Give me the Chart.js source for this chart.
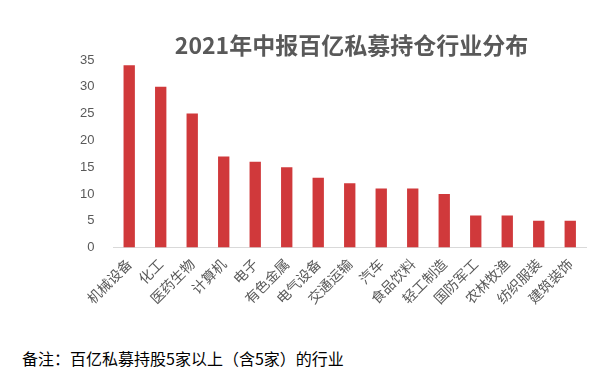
<!DOCTYPE html>
<html>
<head>
<meta charset="utf-8">
<script src="https://cdn.jsdelivr.net/npm/chart.js@4/dist/chart.umd.min.js"></script>
<style>
  body { margin: 0; background: #fff; }
  #wrap { position: relative; width: 606px; height: 378px; }
  #box { position: absolute; left: 0; top: 0; width: 606px; height: 310px; }
  #title {
    position: absolute; left: 113px; width: 477px; top: 30px; text-align: center;
    font-family: "Noto Sans CJK SC", sans-serif; font-size: 23px; font-weight: bold; color: #595959;
    line-height: 28px;
  }
  #note {
    position: absolute; left: 22px; top: 347px;
    font-family: "Noto Sans CJK SC", sans-serif; font-size: 16px; color: #000; line-height: 22px;
  }
</style>
</head>
<body>
<div id="wrap">
  <div id="box"><canvas id="chart"></canvas></div>
  <div id="title">2021年中报百亿私募持仓行业分布</div>
  <div id="note">备注：百亿私募持股5家以上（含5家）的行业</div>
</div>
<script>
// industries and number of holdings
const industries = ['机械设备', '化工', '医药生物', '计算机', '电子', '有色金属', '电气设备',
  '交通运输', '汽车', '食品饮料', '轻工制造', '国防军工', '农林牧渔', '纺织服装', '建筑装饰'];
const counts = [34, 30, 25, 17, 16, 15, 13, 12, 11, 11, 10, 6, 6, 5, 5];
const yTicks = [0, 5, 10, 15, 20, 25, 30, 35];

const grey = '#595959';
const cjk = '"Noto Sans CJK SC", sans-serif';

new Chart(document.getElementById('chart'), {
  type: 'bar',
  data: {
    labels: industries,
    datasets: [{
      data: counts,
      backgroundColor: '#d0393b',
      barPercentage: 0.36,
      categoryPercentage: 1
    }]
  },
  options: {
    responsive: true,
    maintainAspectRatio: false,
    animation: false,
    layout: { padding: { left: 69, right: 20, top: 60, bottom: 0 } },
    plugins: {
      legend: { display: false },
      tooltip: { enabled: false }
    },
    scales: {
      x: {
        grid: { display: false, drawOnChartArea: false, drawTicks: true, tickLength: 5, color: '#d9d9d9' },
        border: { color: '#d9d9d9' },
        ticks: {
          color: grey,
          font: { family: cjk, size: 14 },
          minRotation: 45, maxRotation: 45,
          autoSkip: false
        }
      },
      y: {
        min: 0, max: 35,
        afterBuildTicks: axis => { axis.ticks = yTicks.map(v => ({ value: v })); },
        grid: { display: false },
        border: { display: false },
        ticks: {
          color: grey,
          font: { family: '"Liberation Sans", Arial, sans-serif', size: 13 },
          padding: 11
        }
      }
    }
  }
});
</script>
</body>
</html>
